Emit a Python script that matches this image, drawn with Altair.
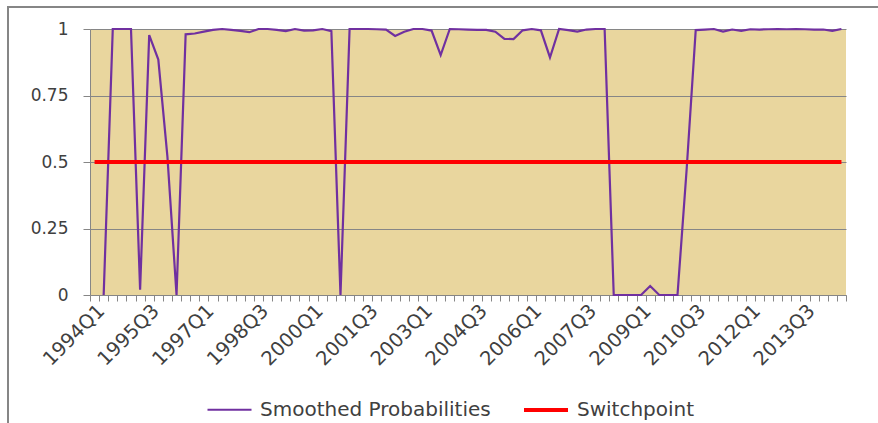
import altair as alt
import pandas as pd

# ---- data -------------------------------------------------------------
quarters = [f"{y}Q{q}" for y in range(1994, 2015) for q in range(1, 5)][:83]

prob = [
    None, 0.0, 1.0, 1.0, 1.0, 0.02, 0.977, 0.885, 0.52, 0.0,
    0.98, 0.983, 0.99, 0.997, 1.0, 0.997, 0.993, 0.988, 1.0, 1.0,
    0.997, 0.992, 1.0, 0.994, 0.995, 1.0, 0.992, 0.0, 1.0, 1.0,
    1.0, 0.999, 0.998, 0.974, 0.99, 1.0, 1.0, 0.994, 0.902, 1.0,
    0.999, 0.998, 0.997, 0.997, 0.99, 0.963, 0.962, 0.995, 1.0, 0.995,
    0.893, 1.0, 0.996, 0.99, 0.998, 1.0, 1.0, 0.0, 0.0, 0.0,
    0.0, 0.034, 0.0, 0.0, 0.0, 0.47, 0.996, 0.998, 1.0, 0.99,
    0.998, 0.993, 0.999, 0.998, 0.999, 1.0, 0.999, 1.0, 0.999, 0.998,
    0.998, 0.993, 1.0,
]
switch = [0.5] * len(quarters)

series_names = ["Smoothed Probabilities", "Switchpoint"]
series_colors = ["#7030A0", "#FF0000"]
series_widths = [2.2, 4]
y_ticks = [0, 0.25, 0.5, 0.75, 1]
label_every = 6

rows = []
for i, q in enumerate(quarters):
    if prob[i] is not None:
        rows.append({"idx": i, "quarter": q, "value": prob[i], "series": series_names[0]})
    rows.append({"idx": i, "quarter": q, "value": switch[i], "series": series_names[1]})
df = pd.DataFrame(rows)

# ---- styling ----------------------------------------------------------
font = "DejaVu Sans"
grey = "#868686"
text_col = "#404040"

W, H = 756, 266
PL, PT = 90, 29

xscale = alt.Scale(domain=[-0.5, len(quarters) - 0.5], nice=False, zero=False)
yscale = alt.Scale(domain=[0, 1], nice=False)

legend = alt.Legend(
    orient="none", legendX=116, legendY=357, direction="horizontal", title=None,
    symbolType="stroke", symbolSize=1936, labelFont=font, labelFontSize=20, labelLimit=500,
    labelColor=text_col, labelOffset=7, columnPadding=25,
)
color = alt.Color("series:N", scale=alt.Scale(domain=series_names, range=series_colors), legend=legend)
swidth = alt.StrokeWidth("series:N", scale=alt.Scale(domain=series_names, range=series_widths), legend=legend)

label_expr = "[" + ",".join(f"'{q}'" for q in quarters) + "][datum.value]"

tick_axis = alt.Axis(
    orient="bottom", values=[i - 0.5 for i in range(len(quarters) + 1)], labels=False,
    ticks=True, tickSize=6, tickColor=grey, domain=True, domainColor=grey, grid=False, title=None,
)
label_axis = alt.Axis(
    orient="bottom", values=list(range(0, len(quarters), label_every)), labelExpr=label_expr,
    labelAngle=-45, labelAlign="right", labelBaseline="top", labelFont=font, labelFontSize=19.5,
    labelColor=text_col, labelPadding=6, labelOverlap=False, labelFlush=False,
    ticks=False, domain=False, grid=False, title=None,
)
y_axis = alt.Axis(
    values=y_ticks, labelExpr="toString(datum.value)", grid=True, gridColor=grey,
    domain=True, domainColor=grey, ticks=True, tickColor=grey, tickSize=7, labelPadding=15,
    labelFont=font, labelFontSize=17, labelColor=text_col, title=None,
)

border = alt.Chart(pd.DataFrame({"a": [0]})).mark_rect(
    fill="white", fillOpacity=0, stroke=grey, strokeWidth=2
).encode(
    x=alt.value(8 - PL), x2=alt.value(W + 60), y=alt.value(7 - PT), y2=alt.value(H + 160)
)

prob_line = alt.Chart(df).transform_filter(
    alt.datum.series == series_names[0]
).mark_line(strokeCap="butt", strokeJoin="miter").encode(
    x=alt.X("idx:Q", scale=xscale, axis=tick_axis),
    y=alt.Y("value:Q", scale=yscale, axis=y_axis),
    color=color,
    strokeWidth=swidth,
    order="idx:Q",
)

switch_line = alt.Chart(df).transform_filter(
    alt.datum.series == series_names[1]
).mark_line(strokeCap="butt").encode(
    x=alt.X("idx:Q", scale=xscale, axis=label_axis),
    y=alt.Y("value:Q", scale=yscale, axis=None),
    color=color,
    strokeWidth=swidth,
    order="idx:Q",
)

chart = alt.layer(border, prob_line, switch_line).resolve_axis(
    x="independent", y="independent"
).properties(
    width=W, height=H,
    autosize=alt.AutoSizeParams(type="none"),
    padding={"left": PL, "top": PT, "right": 878 - PL - W, "bottom": 423 - PT - H},
    background="white",
).configure_view(fill="#E9D69E", stroke=None)

chart.save("out.html", embed_options={"renderer": "svg", "actions": False})
